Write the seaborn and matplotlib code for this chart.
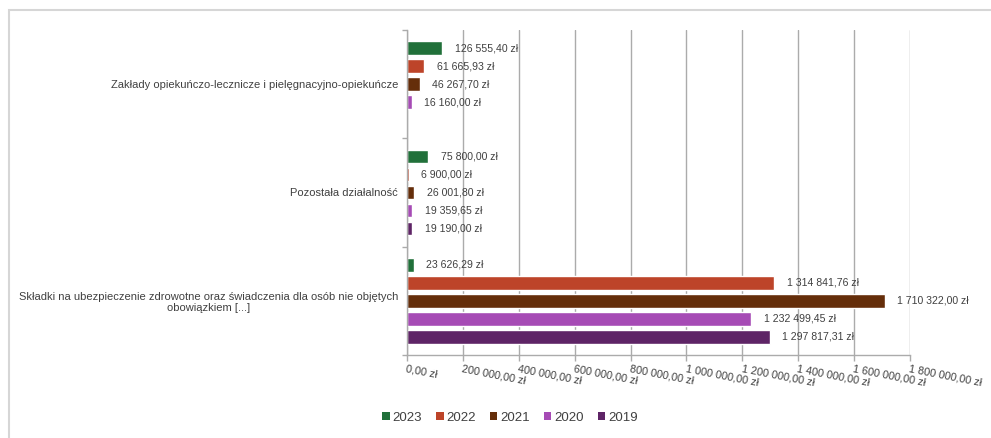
import numpy as np
import pandas as pd
import seaborn as sns
import matplotlib.pyplot as plt
from matplotlib.patches import Rectangle
from matplotlib.ticker import FixedLocator, FuncFormatter

categories = [
    "Zakłady opiekuńczo-lecznicze i pielęgnacyjno-opiekuńcze",
    "Pozostała działalność",
    "Składki na ubezpieczenie zdrowotne oraz świadczenia dla osób nie objętych\nobowiązkiem [...]",
]
years = ["2023", "2022", "2021", "2020", "2019"]
v2023 = [126555.40, 75800.00, 23626.29]
v2022 = [61665.93, 6900.00, 1314841.76]
v2021 = [46267.70, 26001.80, 1710322.00]
v2020 = [16160.00, 19359.65, 1232499.45]
v2019 = [np.nan, 19190.00, 1297817.31]
x_ticks = [0, 200000, 400000, 600000, 800000, 1000000, 1200000, 1400000, 1600000, 1800000]

colors = {
    "2023": "#21703a",
    "2022": "#bd4429",
    "2021": "#652e0a",
    "2020": "#a64bb5",
    "2019": "#5e2466",
}

series = dict(zip(years, [v2023, v2022, v2021, v2020, v2019]))
rows = []
for yr in years:
    for cat, val in zip(categories, series[yr]):
        rows.append({"kategoria": cat, "rok": yr, "kwota": val})
df = pd.DataFrame(rows)


def pln(v):
    s = f"{v:,.2f}".replace(",", " ").replace(".", ",")
    return s + " zł"


sns.set_style("white")
plt.rcParams["font.family"] = ["Liberation Sans", "DejaVu Sans"]
text_color = "#404040"
grid_color = "#ababab"

fig = plt.figure(figsize=(9.91, 4.38), dpi=100)
ax = fig.add_axes([407 / 991, 1 - 355 / 438, (910 - 407) / 991, (355 - 30) / 438])

sns.barplot(
    data=df, x="kwota", y="kategoria", hue="rok", hue_order=years,
    order=categories, palette=colors, orient="h", width=0.83, gap=0.25,
    dodge=True, saturation=1, ax=ax, legend=True,
)

for cont in ax.containers:
    ax.bar_label(cont, fmt=pln, padding=9, fontsize=7.6, color=text_color)

ax.set_xlim(0, 1800000)
ax.set_ylim(2.5, -0.5)
ax.xaxis.set_major_locator(FixedLocator(x_ticks))
ax.xaxis.set_major_formatter(FuncFormatter(lambda v, p: pln(v)))
ax.grid(axis="x", color=grid_color, lw=1.0)
ax.grid(axis="y", visible=False)
ax.set_axisbelow(True)
ax.set_xlabel("")
ax.set_ylabel("")

for side in ("top", "right"):
    ax.spines[side].set_visible(False)
for side in ("left", "bottom"):
    ax.spines[side].set_color(grid_color)
    ax.spines[side].set_linewidth(1.0)

ax.tick_params(axis="x", direction="out", length=4, width=1, color=grid_color,
               pad=2, labelsize=7.8, labelcolor=text_color, bottom=True)
for lab in ax.get_xticklabels():
    lab.set_rotation(-11)
    lab.set_ha("left")
    lab.set_va("top")
    lab.set_rotation_mode("anchor")

ax.tick_params(axis="y", which="major", length=0, pad=6.5,
               labelsize=8, labelcolor=text_color)
for lab in ax.get_yticklabels():
    lab.set_multialignment("center")
ax.yaxis.set_minor_locator(FixedLocator([-0.5, 0.5, 1.5, 2.5]))
ax.tick_params(axis="y", which="minor", direction="out", length=3.5, width=1,
               color=grid_color, left=True)

if ax.get_legend() is not None:
    ax.get_legend().remove()
handles = [Rectangle((0, 0), 1, 1, facecolor=colors[y], edgecolor="none") for y in years]
fig.legend(handles, years, loc="center", bbox_to_anchor=(510 / 991, 1 - 418 / 438),
           ncol=5, frameon=False, fontsize=9.5, handlelength=0.55, handleheight=0.55,
           handletextpad=0.2, columnspacing=1.1, labelcolor=text_color)

fig.patches.append(Rectangle((9 / 991, -0.1), 1.2, 1 - 10 / 438 + 0.1,
                             transform=fig.transFigure, fill=False,
                             edgecolor="#d6d6d6", lw=1.5))

fig.savefig("out.png", dpi=100)
